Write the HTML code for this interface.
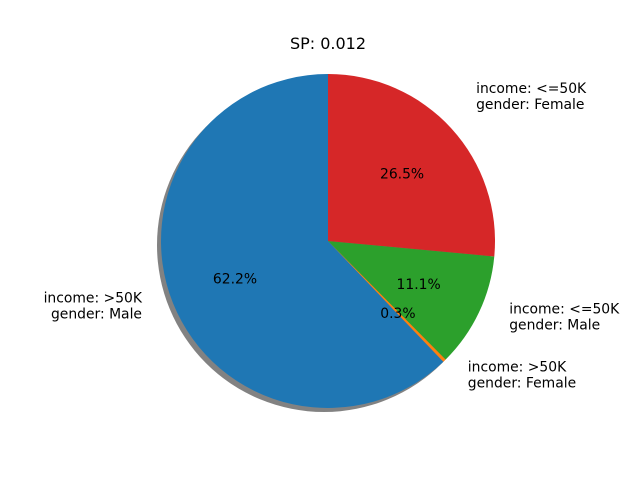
<!DOCTYPE html>
<html><head><meta charset="utf-8"><style>
body{margin:0;background:#fff}
svg{display:block;font-family:"DejaVu Sans","Liberation Sans",sans-serif}
</style></head><body>
<svg id="chart" width="640" height="480" viewBox="0 0 640 480">
<rect width="640" height="480" fill="#fff"/>
<text x="328" y="49" text-anchor="middle" font-size="16">SP: 0.012</text>
<g id="shadow"></g><g id="slices"></g><g id="labels"></g>
</svg>
<script>
const categories=["income: >50K\ngender: Male","income: >50K\ngender: Female","income: <=50K\ngender: Male","income: <=50K\ngender: Female"];
const values=[62.2,0.3,11.1,26.5];
const colors=["#1f77b4","#ff7f0e","#2ca02c","#d62728"];
const names=["slice-male-gt50k","slice-female-gt50k","slice-male-le50k","slice-female-le50k"];
const NS="http://www.w3.org/2000/svg";
const cx=328,cy=241,R=167;
const total=values.reduce((a,b)=>a+b,0);
function pt(a,r,ox,oy){return [ox+r*Math.cos(a),oy-r*Math.sin(a)];}
function wedge(a0,a1,ox,oy){
 const p0=pt(a0,R,ox,oy),p1=pt(a1,R,ox,oy);const large=(a1-a0)>Math.PI?1:0;
 return `M${ox},${oy}L${p0[0]},${p0[1]}A${R},${R} 0 ${large} 0 ${p1[0]},${p1[1]}Z`;}
const sh=document.createElementNS(NS,"circle");
sh.setAttribute("cx",cx-4);sh.setAttribute("cy",cy+4);sh.setAttribute("r",R);
sh.setAttribute("fill","#4d4d4d");sh.setAttribute("opacity","0.7");


document.getElementById("shadow").appendChild(sh);
let a=Math.PI/2;
values.forEach((v,i)=>{
 const span=v/total*2*Math.PI,a1=a+span,mid=a+span/2;
 const p=document.createElementNS(NS,"path");
 p.setAttribute("d",wedge(a,a1,cx,cy));p.setAttribute("fill",colors[i]);
 
 
 document.getElementById("slices").appendChild(p);
 const pp=pt(mid,0.6*R,cx,cy);
 const t=document.createElementNS(NS,"text");
 t.setAttribute("x",pp[0]);t.setAttribute("y",pp[1]+5);t.setAttribute("text-anchor","middle");t.setAttribute("font-size","13.9");
 t.textContent=v.toFixed(1)+"%";
 
 
 document.getElementById("labels").appendChild(t);
 const lp=pt(mid,1.2*R,cx,cy-10);const right=Math.cos(mid)>=0;
 const lt=document.createElementNS(NS,"text");
 lt.setAttribute("font-size","13.9");lt.setAttribute("text-anchor",right?"start":"end");
 const lines=categories[i].split("\n");
 lines.forEach((ln,k)=>{const ts=document.createElementNS(NS,"tspan");ts.setAttribute("x",lp[0]);ts.setAttribute("y",lp[1]-3+k*16);ts.textContent=ln;lt.appendChild(ts);});
 
 
 document.getElementById("labels").appendChild(lt);
 a=a1;
});
</script>
</body></html>
